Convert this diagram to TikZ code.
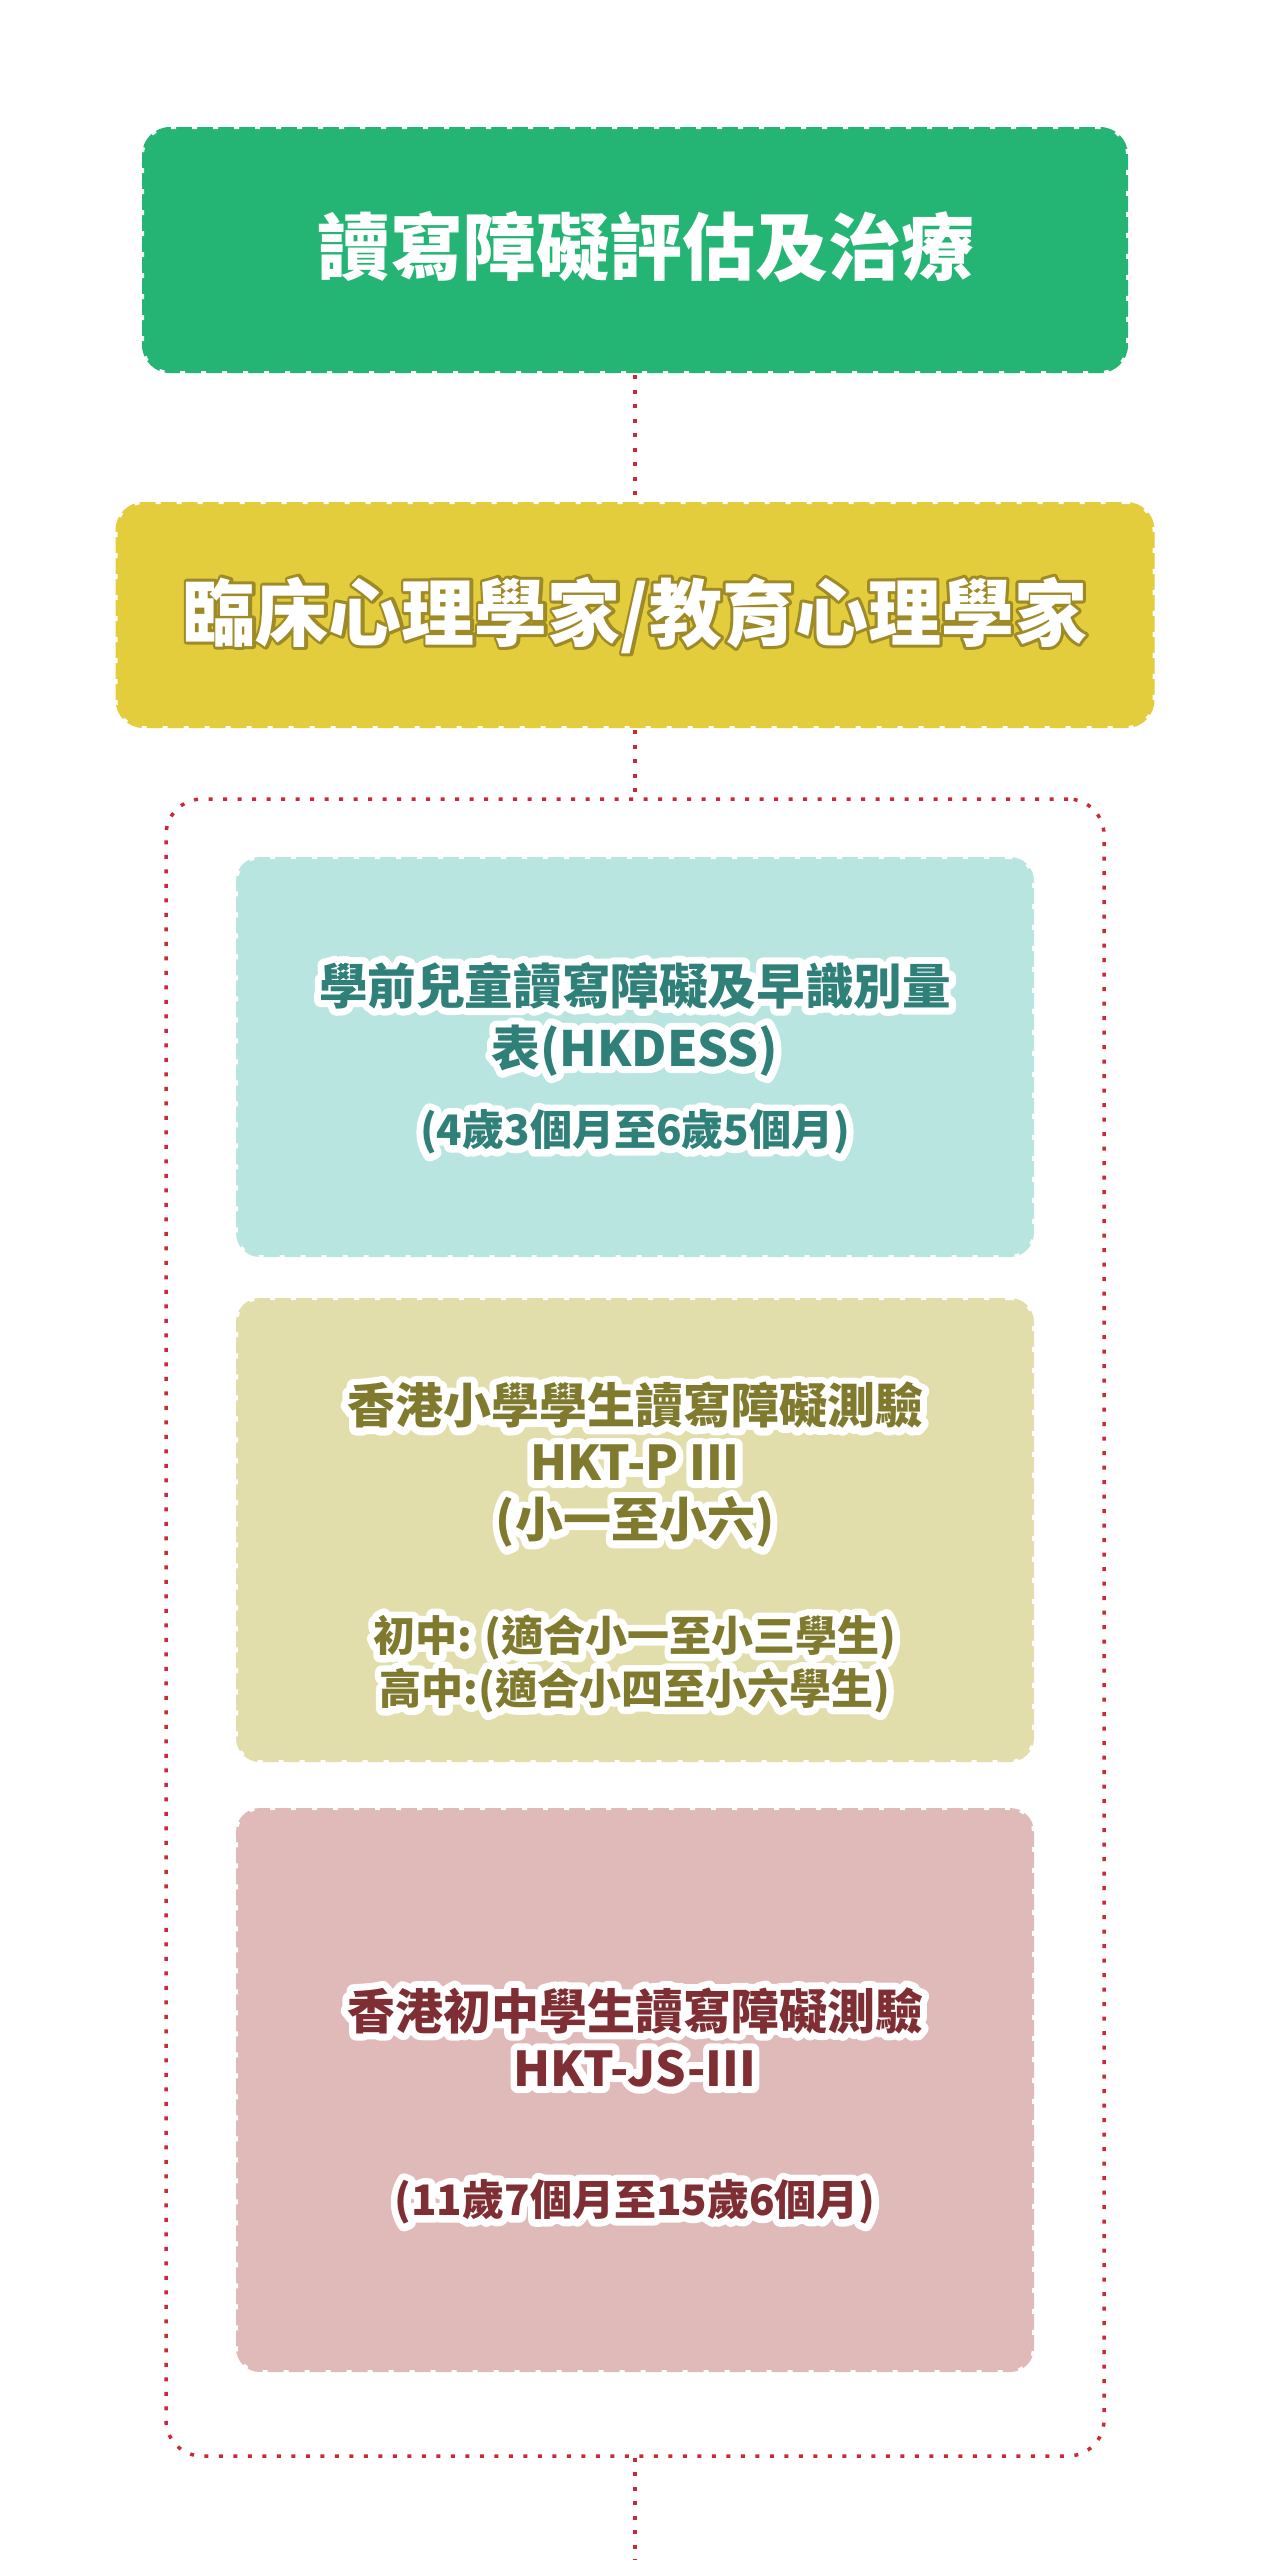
\documentclass[tikz,border=0pt]{standalone}
\usepackage{fontspec}
\setmainfont{Noto Sans CJK TC}
\usepackage{tikz}
\definecolor{greenbox}{RGB}{36,180,115}
\definecolor{yellowbox}{RGB}{227,205,60}
\definecolor{tealbox}{RGB}{185,229,225}
\definecolor{tealtext}{RGB}{46,128,120}
\definecolor{olivebox}{RGB}{225,222,171}
\definecolor{olivetext}{RGB}{128,122,46}
\definecolor{pinkbox}{RGB}{224,185,185}
\definecolor{pinktext}{RGB}{127,47,52}
\definecolor{dotred}{RGB}{204,41,54}
\tikzset{
	box/.style={rounded corners=12pt, draw=white, line width=2pt, dash pattern=on 2.5pt off 8pt, inner sep=0pt},
	dots/.style={draw=dotred, line width=1.75pt, dash pattern=on 2pt off 5.25pt},
	bigtext/.style={font=\fontsize{36.5pt}{43pt}\selectfont\bfseries, text=white},
	smalltext/.style={font=\fontsize{24.3pt}{31pt}\selectfont\bfseries, align=center},
	agetext/.style={font=\fontsize{21pt}{26.5pt}\selectfont\bfseries, align=center},
}
% stroked copy of the text under the filled one
\newcommand{\halo}[3]{\leavevmode\rlap{\special{x:gsave}\special{pdf:literal direct 1 Tr 1 j #2 w #1 RG}#3\special{x:grestore}}#3}
\newcommand{\wl}[1]{\halo{1 1 1}{7}{#1}}
\newcommand{\gl}[1]{\halo{0.62 0.54 0.15}{3}{#1}}

\begin{document}
\begin{tikzpicture}[x=0.5pt,y=-0.5pt]
	\fill[white] (0,0) rectangle (1270,2560);
	\useasboundingbox (0,0) rectangle (1270,2560);
	
	\node[box, fill=greenbox, rounded corners=14pt, minimum width=493pt, minimum height=123pt] (eval) at (635,250) {};
	\node[bigtext] (evaltxt) at (646,247) {讀寫障礙評估及治療};
	
	\node[box, fill=yellowbox, rounded corners=14pt, minimum width=519.5pt, minimum height=113pt] (psy) at (635,615) {};
	\node[bigtext] (psytxt) at (635,615) {\gl{臨床心理學家/教育心理學家}};
	
	\node[dots, rounded corners=18pt, minimum width=469pt, minimum height=828.5pt] (tools) at (635,1627.5) {};
	
	\node[box, fill=tealbox, minimum width=399pt, minimum height=200pt] (hkdess) at (635,1057) {};
	\node[smalltext, text=tealtext] (hkdess1) at (635,1019) {\wl{學前兒童讀寫障礙及早識別量}\\\wl{表(HKDESS)}};
	\node[agetext, text=tealtext] (hkdess2) at (635,1132) {\wl{(4歲3個月至6歲5個月)}};
	
	\node[box, fill=olivebox, minimum width=399pt, minimum height=232pt] (hktp) at (635,1530) {};
	\node[smalltext, text=olivetext, font=\fontsize{24pt}{28.5pt}\selectfont\bfseries] (hktp1) at (635,1465) {\wl{香港小學學生讀寫障礙測驗}\\\wl{HKT-P III}\\\wl{(小一至小六)}};
	\node[agetext, text=olivetext] (hktp2) at (635,1664) {\wl{初中: (適合小一至小三學生)}\\\wl{高中:(適合小四至小六學生)}};
	
	\node[box, fill=pinkbox, minimum width=399pt, minimum height=282pt] (hktjs) at (635,2090) {};
	\node[smalltext, text=pinktext, font=\fontsize{24pt}{28.5pt}\selectfont\bfseries] (hktjs1) at (635,2037) {\wl{香港初中學生讀寫障礙測驗}\\\wl{HKT-JS-III}};
	\node[agetext, text=pinktext] (hktjs2) at (635,2202) {\wl{(11歲7個月至15歲6個月)}};
	
	\coordinate (foot) at (635,2560);
	\draw[dots] (eval.south) -- (psy.north);
	\draw[dots] (psy.south) -- (tools.north);
	\draw[dots] (tools.south) -- (foot);
\end{tikzpicture}
\end{document}
